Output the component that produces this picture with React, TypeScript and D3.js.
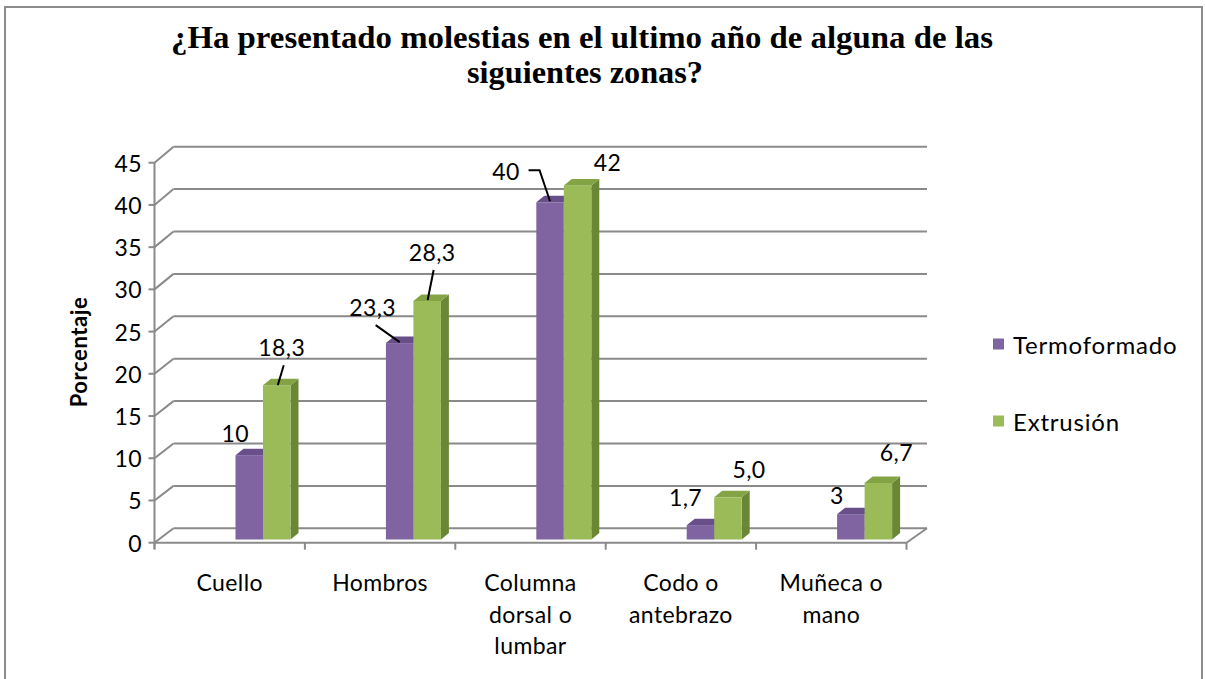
import React from "react";
import * as d3 from "d3";

const categories: string[][] = [
  ["Cuello"],
  ["Hombros"],
  ["Columna", "dorsal o", "lumbar"],
  ["Codo o", "antebrazo"],
  ["Muñeca o", "mano"],
];
const seriesNames = ["Termoformado", "Extrusión"];
const termoformado = [10, 23.3, 40, 1.7, 3];
const extrusion = [18.3, 28.3, 42, 5.0, 6.7];
const termoLabels = ["10", "23,3", "40", "1,7", "3"];
const extrLabels = ["18,3", "28,3", "42", "5,0", "6,7"];
const yTicks = [0, 5, 10, 15, 20, 25, 30, 35, 40, 45];
const titleLines = ["¿Ha presentado molestias en el ultimo año de alguna de las", "siguientes zonas?"];

// layout (label offsets relative to bar top-center)
const labelOffsets: [number, number][][] = [
  [[-14, -22], [5, -38]],
  [[-27, -36], [5, -49]],
  [[-44, -31], [30, -23]],
  [[-15, -28], [21, -28]],
  [[-14, -19], [18, -31]],
];
const leaders: ([number, number][] | null)[][] = [
  [null, [[7, -20], [1, 0]]],
  [[[-24, -18], [0, -1]], [[6.5, -31], [0.5, -1]]],
  [[[-21.5, -32], [-10.5, -32], [0, -1]], null],
  [null, null],
  [null, null],
];

const colors = {
  front: ["#8064A2", "#9BBB59"],
  top: ["#684F8A", "#83A345"],
  side: ["#5A4579", "#6A8736"],
};

const FONT = "Lato, 'Open Sans', sans-serif";
const FS = 23;
const LS = 0.4;

export default function App() {
  const W = 1205, H = 679;
  const cats = categories.map((c) => c.join(" "));
  const x = d3.scaleBand<string>().domain(cats).range([154.5, 906.5]).padding(0);
  const xs = d3.scaleBand<string>().domain(seriesNames).range([81, 136]);
  const yFront = d3.scaleLinear().domain([0, 45]).range([542.7, 162.7]);
  const yWall = d3.scaleLinear().domain([0, 45]).range([528.3, 146.7]);
  const yBar = d3.scaleLinear().domain([0, 45]).range([539.5, 539.5 - 45 * 8.43]);
  const depthX = 19, wallRight = 927;
  const bdx = 8, bdy = -6.5;
  const values = [termoformado, extrusion];
  const labels = [termoLabels, extrLabels];
  const grid = "#8a8a8a";

  const bars: React.ReactNode[] = [];
  const texts: React.ReactNode[] = [];
  cats.forEach((c, i) => {
    seriesNames.forEach((s, si) => {
      const v = values[si][i];
      const x0 = (x(c) as number) + (xs(s) as number);
      const x1 = x0 + xs.bandwidth();
      const top = yBar(v);
      const base = yBar(0);
      bars.push(
        <g key={`b${i}-${si}`}>
          <polygon
            points={`${x1},${top} ${x1 + bdx},${top + bdy} ${x1 + bdx},${base + bdy} ${x1},${base}`}
            fill={colors.side[si]}
          />
          <rect x={x0} y={top} width={x1 - x0} height={base - top} fill={colors.front[si]} />
          <polygon
            points={`${x0},${top} ${x0 + bdx},${top + bdy} ${x1 + bdx},${top + bdy} ${x1},${top}`}
            fill={colors.top[si]}
          />
        </g>
      );
      const cx = (x0 + x1) / 2;
      const [ox, oy] = labelOffsets[i][si];
      texts.push(
        <text key={`t${i}-${si}`} x={cx + ox} y={top + oy} textAnchor="middle" dominantBaseline="central"
          fontFamily={FONT} fontSize={FS} letterSpacing={LS} fill="#000">
          {labels[si][i]}
        </text>
      );
      const ld = leaders[i][si];
      if (ld) {
        texts.push(
          <polyline key={`l${i}-${si}`} points={ld.map(([a, b]) => `${cx + a},${top + b}`).join(" ")}
            fill="none" stroke="#000" strokeWidth={2} />
        );
      }
    });
  });

  return (
    <svg width={W} height={H} style={{ position: "absolute", left: 0, top: 0, background: "#fff" }}>
      <rect x={0} y={0} width={W} height={H} fill="#fff" />
      {/* frame */}
      <path d={`M5,${H} L5,7 L1202,7 L1202,${H}`} fill="none" stroke="#8c8c8c" strokeWidth={2} />
      {/* title */}
      <text x={582} y={37} textAnchor="middle" dominantBaseline="central" textLength={822} lengthAdjust="spacingAndGlyphs"
        fontFamily="'Liberation Serif', 'Times New Roman', serif" fontWeight="bold" fontSize={31}>
        {titleLines[0]}
      </text>
      <text x={585} y={72} textAnchor="middle" dominantBaseline="central" textLength={236} lengthAdjust="spacingAndGlyphs"
        fontFamily="'Liberation Serif', 'Times New Roman', serif" fontWeight="bold" fontSize={31}>
        {titleLines[1]}
      </text>
      {/* gridlines & wall */}
      {yTicks.map((t) => (
        <g key={`g${t}`}>
          <line x1={154.5 + depthX} x2={wallRight} y1={yWall(t)} y2={yWall(t)} stroke={grid} strokeWidth={2} />
          <line x1={154.5} y1={yFront(t)} x2={154.5 + depthX} y2={yWall(t)} stroke={grid} strokeWidth={2} />
          <line x1={148.5} x2={154.5} y1={yFront(t)} y2={yFront(t)} stroke={grid} strokeWidth={2} />
          <text x={142} y={yFront(t)} textAnchor="end" dominantBaseline="central" fontFamily={FONT} fontSize={FS} letterSpacing={LS}>
            {t}
          </text>
        </g>
      ))}
      <line x1={154.5} x2={154.5} y1={yFront(45)} y2={yFront(0) + 6} stroke={grid} strokeWidth={2} />
      <line x1={906.5} y1={yFront(0)} x2={wallRight} y2={yWall(0)} stroke={grid} strokeWidth={2} />
      {bars}
      {/* bottom axis */}
      <line x1={154.5} x2={906.5} y1={yFront(0)} y2={yFront(0)} stroke={grid} strokeWidth={2} />
      {[...cats.map((c) => x(c) as number), 906.5].map((p, i) => (
        <line key={`tk${i}`} x1={p} x2={p} y1={yFront(0)} y2={yFront(0) + 7} stroke={grid} strokeWidth={2} />
      ))}
      {categories.map((lines, i) => (
        <text key={`c${i}`} textAnchor="middle" fontFamily={FONT} fontSize={FS} letterSpacing={LS}>
          {lines.map((ln, j) => (
            <tspan key={j} x={(x(cats[i]) as number) + x.bandwidth() / 2} y={582 + j * 31.5} dominantBaseline="central">
              {ln}
            </tspan>
          ))}
        </text>
      ))}
      {texts}
      {/* axis title */}
      <text transform="translate(78,352) rotate(-90)" textAnchor="middle" dominantBaseline="central"
        fontFamily={FONT} fontWeight="bold" fontSize={22} letterSpacing={0.6}>
        Porcentaje
      </text>
      {/* legend */}
      {seriesNames.map((s, i) => (
        <g key={`lg${i}`} transform={`translate(993,${344 + i * 77})`}>
          <rect x={0} y={-5.5} width={11} height={11} fill={colors.front[i]} />
          <text x={20} y={0} dominantBaseline="central" fontFamily={FONT} fontSize={FS + 1} letterSpacing={0.8}>
            {s}
          </text>
        </g>
      ))}
    </svg>
  );
}
